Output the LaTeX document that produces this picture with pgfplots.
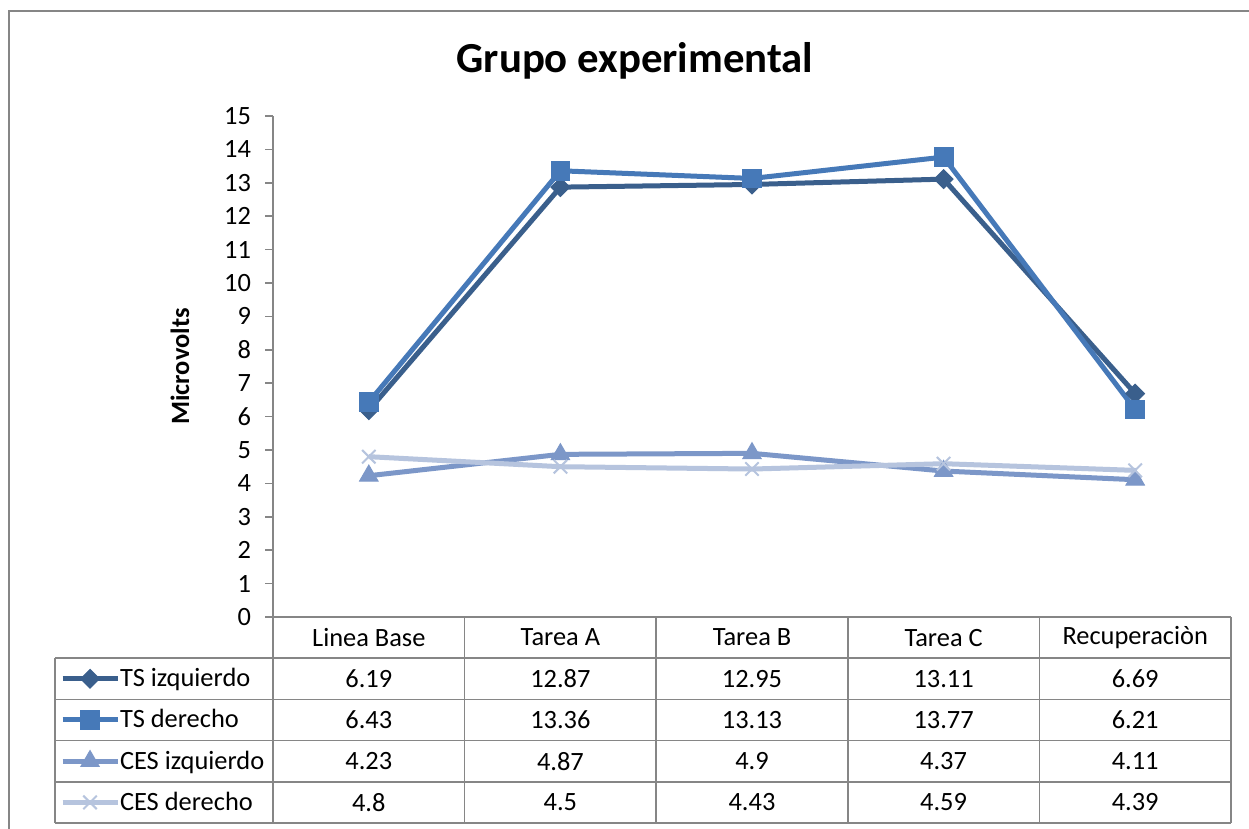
\documentclass[border=0pt]{standalone}
\usepackage{pgfplots}
\usepackage{pgfplotstable}
\pgfplotsset{compat=1.18}
\usepackage{fontspec}
\setmainfont{Carlito}

\definecolor{c1}{RGB}{58,95,140}
\definecolor{c2}{RGB}{70,121,184}
\definecolor{c3}{RGB}{124,151,200}
\definecolor{c4}{RGB}{182,196,222}
\definecolor{lgray}{RGB}{134,134,134}

\pgfplotstableread{
x tsi tsd cesi cesd
0 6.19 6.43 4.23 4.8
1 12.87 13.36 4.87 4.5
2 12.95 13.13 4.9 4.43
3 13.11 13.77 4.37 4.59
4 6.69 6.21 4.11 4.39
}\datatable

\newcommand{\tfont}{\fontsize{13.2}{15}\selectfont}

\begin{document}
\begin{tikzpicture}
\begin{scope}[x=0.5pt,y=-0.5pt]
\useasboundingbox (0,0) rectangle (1249,829);
\fill[white] (0,0) rectangle (1249,829);
\draw[lgray, line width=1pt] (9,11) rectangle (1275,855);
\node[font=\fontsize{21.4}{25}\selectfont\bfseries] at (635,61) {Grupo experimental};
\end{scope}

\begin{axis}[
  at={(136.5pt,-308.5pt)}, anchor=south west,
  scale only axis, width=479pt, height=250.5pt,
  xmin=-0.5, xmax=4.5, ymin=0, ymax=15,
  axis x line=none, axis y line*=left,
  axis line style={lgray, line width=0.75pt},
  ytick={0,...,15}, tick align=outside, major tick length=4pt,
  tick style={lgray, line width=0.75pt},
  /pgf/number format/assume math mode=true,
  yticklabel style={font=\tfont, black, xshift=-3.5pt},
  ylabel={\bfseries Microvolts},
  ylabel style={font=\tfont, at={(axis description cs:-0.0971,0.5)}, anchor=center},
  clip=false,
  legend image code/.code={\draw[mark repeat=2,mark phase=2,#1] plot coordinates {(0pt,0pt)(13.75pt,0pt)(27.5pt,0pt)};},
  legend cell align=left,
  legend style={at={(axis description cs:-0.2223,-0.0822)}, anchor=north west,
    draw=none, fill=none, inner sep=0pt, outer sep=0pt, row sep=0pt, column sep=0pt,
    font=\tfont,
    nodes={inner xsep=0pt, inner ysep=0pt, minimum height=20.6pt, text height=10.5pt, text depth=2.5pt}},
]
\addplot[c1, line width=2.5pt, mark=square*, mark size=3.3pt, mark options={solid, rotate=45, fill=c1, line width=0.5pt}] table[x=x,y=tsi]{\datatable};
\addlegendentry{TS izquierdo}
\addplot[c2, line width=2.5pt, mark=square*, mark size=4.7pt, mark options={solid, fill=c2, line width=0.5pt}] table[x=x,y=tsd]{\datatable};
\addlegendentry{TS derecho}
\addplot[c3, line width=2.5pt, mark=triangle*, mark size=5.3pt, mark options={solid, fill=c3, line width=0.5pt}] table[x=x,y=cesi]{\datatable};
\addlegendentry{CES izquierdo}
\addplot[c4, line width=2.5pt, mark=x, mark size=4.75pt, mark options={solid, line width=1pt}] table[x=x,y=cesd]{\datatable};
\addlegendentry{CES derecho}
\end{axis}

\begin{scope}[x=0.5pt,y=-0.5pt]
\draw[lgray, line width=0.75pt] (273,617) -- (1231,617);
\foreach \yy in {658.2,699.4,740.6,781.8,823} {\draw[lgray, line width=0.75pt] (55,\yy) -- (1231,\yy);}
\draw[lgray, line width=0.75pt] (55,658.2) -- (55,823);
\foreach \xx in {273,464.6,656.2,847.8,1039.4,1231} {\draw[lgray, line width=0.75pt] (\xx,617) -- (\xx,823);}
\foreach \lab [count=\r from 0] in {Linea Base,Tarea A,Tarea B,Tarea C,Recuperaciòn} {
  \node[font=\tfont] at ({368.8+191.6*\r},637.6) {\lab};
}
\foreach \c [count=\i from 0] in {tsi,tsd,cesi,cesd} {
  \foreach \r in {0,...,4} {
    \pgfplotstablegetelem{\r}{\c}\of\datatable
    \node[font=\tfont] at ({368.8+191.6*\r},{678.8+41.2*\i}) {\pgfplotsretval};
  }
}
\end{scope}
\end{tikzpicture}
\end{document}
